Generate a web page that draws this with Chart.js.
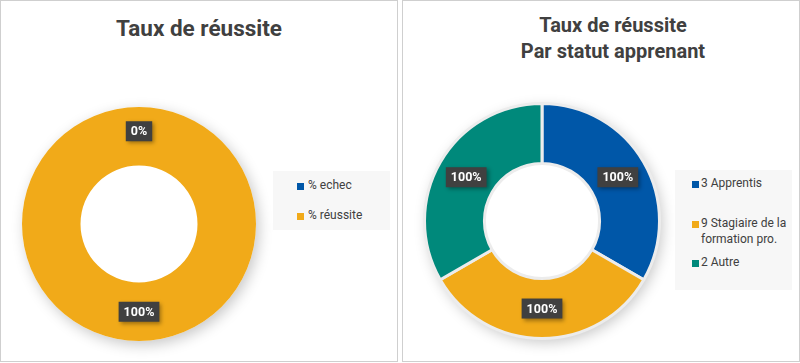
<!DOCTYPE html>
<html lang="fr">
<head>
<meta charset="utf-8">
<script src="https://cdn.jsdelivr.net/npm/chart.js@4.4.1/dist/chart.umd.min.js"></script>
<style>
  body { margin: 0; background: #fff; font-family: Roboto, sans-serif; }
  .panel { position: absolute; top: 0; width: 396px; height: 360px; border: 1px solid #cfcfcf; background: #fff; }
  .panel canvas { position: absolute; left: 0; top: 0; }
  .titre { position: absolute; width: 396px; text-align: center; font-weight: bold; font-size: 20px; color: #404040; }
  .legende { position: absolute; background: #f7f7f7; color: #404040; font-size: 12px; box-sizing: border-box; }
  .legende .carre { position: absolute; width: 7px; height: 7px; }
  .legende .txt { position: absolute; line-height: 15.5px; }
</style>
</head>
<body>
<div class="panel" style="left:0">
  <div class="titre" style="left:0; top:14px; line-height:26px; font-size:22.5px">Taux de réussite</div>
  <canvas id="graf1" width="396" height="360"></canvas>
  <div class="legende" id="leg1" style="left:272px; top:170px; width:117px; height:59px"></div>
</div>
<div class="panel" style="left:402px">
  <div class="titre" style="left:12px; top:11px; line-height:26px">Taux de réussite<br>Par statut apprenant</div>
  <canvas id="graf2" width="396" height="360"></canvas>
  <div class="legende" id="leg2" style="left:272px; top:169px; width:117px; height:120px"></div>
</div>
<script>
(function () {
  // Donnees graphique 1
  const categories1 = ["% echec", "% réussite"];
  const valeurs1 = [0, 100];
  const couleurs1 = ["#0057A8", "#F1AA19"];

  // Donnees graphique 2
  const categories2 = ["3 Apprentis", "9 Stagiaire de la formation pro.", "2 Autre"];
  const valeurs2 = [100, 100, 100];
  const couleurs2 = ["#0057A8", "#F1AA19", "#00897B"];

  // Ombre sous l'anneau
  const ombre = {
    id: "ombre",
    beforeDatasetsDraw(chart) {
      const arc = chart.getDatasetMeta(0).data[0];
      if (!arc) return;
      const ctx = chart.ctx;
      ctx.save();
      ctx.shadowColor = "rgba(0,0,0,0.22)";
      ctx.shadowBlur = 14;
      ctx.shadowOffsetX = 3;
      ctx.shadowOffsetY = 4;
      ctx.fillStyle = "#fff";
      ctx.beginPath();
      ctx.arc(arc.x, arc.y, arc.outerRadius, 0, Math.PI * 2);
      ctx.fill();
      ctx.restore();
    },
  };

  // Etiquettes de valeurs (boite sombre)
  const etiquettes = {
    id: "etiquettes",
    afterDatasetsDraw(chart) {
      const ctx = chart.ctx;
      const meta = chart.getDatasetMeta(0);
      const data = chart.data.datasets[0].data;
      ctx.save();
      ctx.font = "bold 12.5px Roboto, sans-serif";
      ctx.textAlign = "center";
      ctx.textBaseline = "middle";
      meta.data.forEach((arc, i) => {
        const pos = arc.tooltipPosition();
        // l'etiquette a 0 est un peu decalee vers l'exterieur
        const y = data[i] === 0 ? pos.y - 5 : pos.y;
        const texte = data[i] + "%";
        const w = ctx.measureText(texte).width + 10;
        const h = 20;
        ctx.shadowColor = "rgba(0,0,0,0.35)";
        ctx.shadowBlur = 4;
        ctx.shadowOffsetX = 2;
        ctx.shadowOffsetY = 2;
        ctx.fillStyle = "#404040";
        ctx.fillRect(pos.x - w / 2, y - h / 2, w, h);
        ctx.shadowColor = "transparent";
        ctx.fillStyle = "#fff";
        ctx.fillText(texte, pos.x, y + 1);
      });
      ctx.restore();
    },
  };

  function creer(id, labels, valeurs, couleurs, cutout, padding, bordure) {
    const ctx = document.getElementById(id).getContext("2d");
    return new Chart(ctx, {
      type: "doughnut",
      data: {
        labels: labels,
        datasets: [
          {
            data: valeurs,
            backgroundColor: couleurs,
            borderColor: "#ececec",
            borderWidth: bordure,
          },
        ],
      },
      options: {
        responsive: false,
        animation: false,
        events: [],
        cutout: cutout,
        layout: { padding: padding },
        plugins: {
          legend: { display: false },
          tooltip: { enabled: false },
        },
      },
      plugins: [ombre, etiquettes],
    });
  }

  creer("graf1", categories1, valeurs1, couleurs1, "50%",
    { left: 21, right: 141, top: 106, bottom: 20 }, 0);
  creer("graf2", categories2, valeurs2, couleurs2, "49%",
    { left: 20, right: 138, top: 101, bottom: 21 }, 3);

  // Legende HTML
  function legende(id, labels, couleurs, lignes, xCarre, xTexte, largeur) {
    const boite = document.getElementById(id);
    labels.forEach((lab, i) => {
      const c = document.createElement("div");
      c.className = "carre";
      c.style.background = couleurs[i];
      c.style.left = xCarre + "px";
      c.style.top = lignes[i] - 3.5 + "px";
      boite.appendChild(c);
      const t = document.createElement("div");
      t.className = "txt";
      t.textContent = lab;
      t.style.left = xTexte + "px";
      t.style.top = lignes[i] - 8 + "px";
      t.style.width = largeur + "px";
      boite.appendChild(t);
    });
  }
  legende("leg1", categories1, couleurs1, [15, 45], 24, 35, 80);
  legende("leg2", categories2, couleurs2, [14, 54, 93], 17, 26, 88);
})();
</script>
</body>
</html>
